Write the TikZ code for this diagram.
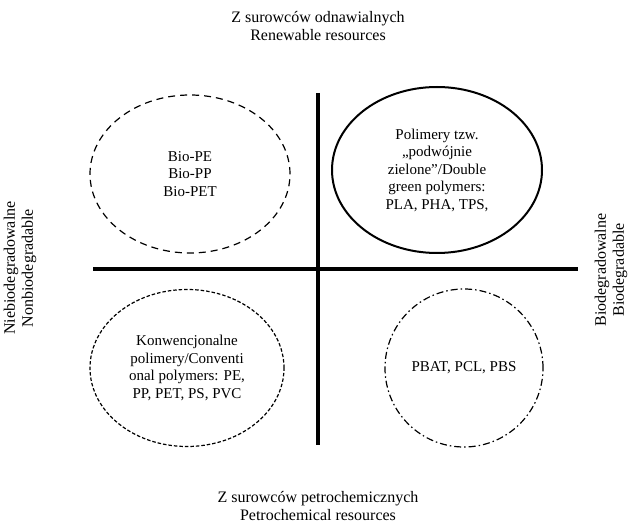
\documentclass[tikz,border=0pt]{standalone}
\usepackage{fontspec}
\setmainfont{Liberation Serif}
\usetikzlibrary{shapes.geometric}

\begin{document}
\begin{tikzpicture}[
    x=1pt, y=-1pt,
    oval/.style={ellipse, draw, line width=1.2pt, align=center, inner sep=0pt,
                 font=\fontsize{15}{17.5}\selectfont},
    biobased/.style={oval, dash pattern=on 7pt off 5pt},
    dblgreen/.style={oval, line width=2pt},
    conv/.style={oval, dash pattern=on 3.5pt off 2pt},
    petrobio/.style={oval, dash pattern=on 7pt off 3pt on 1.5pt off 3pt},
    caption/.style={align=center, font=\fontsize{16}{18}\selectfont},
    axis/.style={line width=4pt},
  ]
  \useasboundingbox (0,0) rectangle (633,532);

  % axes
  \coordinate (west)  at (93,269);
  \coordinate (east)  at (578,269);
  \coordinate (north) at (318,93);
  \coordinate (south) at (318,445);
  \draw[axis] (west) -- (east);
  \draw[axis] (north) -- (south);

  % axis captions
  \node[caption] (renew) at (318,26)  {Z surowców odnawialnych\\Renewable resources};
  \node[caption] (petro) at (318,506) {Z surowców petrochemicznych\\Petrochemical resources};
  \node[caption, rotate=90] (nonbio) at (20,268)  {Niebiodegradowalne\\Nonbiodegradable};
  \node[caption, rotate=90] (bio)    at (611,270) {Biodegradowalne\\Biodegradable};

  % quadrants
  \node[biobased, minimum width=200pt, minimum height=158pt] (q1) at (190,174)
       {Bio-PE\\Bio-PP\\Bio-PET};
  \node[dblgreen, minimum width=210pt, minimum height=166pt] (q2) at (437,170)
       {Polimery tzw.\\„podwójnie\\zielone”/Double\\green polymers:\\PLA, PHA, TPS,};
  \node[conv, minimum width=194pt, minimum height=157pt] (q3) at (187,368)
       {Konwencjonalne\\polimery/Conventi\\onal polymers: PE,\\PP, PET, PS, PVC};
  \node[petrobio, minimum width=158pt, minimum height=158pt] (q4) at (464,368)
       {PBAT, PCL, PBS};
\end{tikzpicture}
\end{document}
